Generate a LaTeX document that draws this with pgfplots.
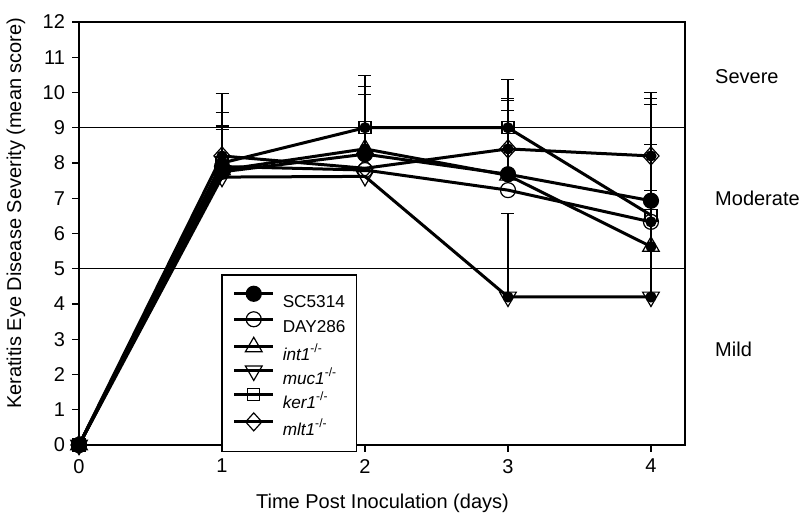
\documentclass[border=0pt]{standalone}
\usepackage{fontspec}
\setmainfont{Liberation Sans}
\usepackage{pgfplots}
\pgfplotsset{compat=1.18}
\begin{document}
\begin{tikzpicture}
\begin{axis}[
  scale only axis, width=303pt, height=211.5pt,
  xmin=0, xmax=4.238, ymin=0, ymax=12,
  xtick={0,1,2,3,4}, ytick={0,1,...,12},
  xtick pos=bottom, ytick pos=left,
  tick align=outside, major tick length=3.5pt,
  tick style={black, line width=0.6pt},
  axis line style={line width=0.75pt},
  font=\fontsize{10}{12}\selectfont,
  tick label style={font=\fontsize{10}{12}\selectfont},
  /pgf/number format/assume math mode=true,
  xlabel={Time Post Inoculation (days)},
  ylabel={Keratitis Eye Disease Severity (mean score)},
  xlabel style={at={(axis description cs:0.5008,-0.137)}, anchor=center},
  ylabel style={at={(axis description cs:-0.104,0.548)}, anchor=center},
  clip=false,
  legend cell align=left,
  legend image code/.code={\draw[mark repeat=2,mark phase=2] plot coordinates {(0pt,3pt) (9.75pt,3pt) (19.5pt,3pt)};},
  legend style={at={(axis cs:0.993,4.85)}, anchor=north west, draw=black, line width=0.75pt,
    font=\fontsize{8.6}{10}\selectfont, inner xsep=5.5pt, inner ysep=5.75pt,
    row sep=0pt, column sep=4pt,
    nodes={inner sep=0pt, text height=9.65pt, text depth=2.35pt}},
  every axis plot/.append style={black, line width=1.5pt},
]
% reference lines
\addplot[forget plot, line width=0.6pt] coordinates {(0,9) (4.238,9)};
\addplot[forget plot, line width=0.6pt] coordinates {(0,5) (4.238,5)};
% error bars
\pgfplotsset{errstyle/.style={forget plot, only marks, mark=none,
  error bars/.cd, y dir=plus, y explicit,
  error bar style={draw=black, solid, line width=0.6pt},
  error mark=-, error mark options={rotate=90, draw=black, solid, line width=0.6pt, mark size=3.25pt}}}
\addplot[errstyle] table[x=x, y=y, y error=e] {
x y e
1 7.75 1.21
2 8.25 1.70
3 7.68 2.09
4 6.93 0.28
};
\addplot[errstyle] table[x=x, y=y, y error=e] {
x y e
1 7.90 1.15
4 6.33 3.50
};
\addplot[errstyle] table[x=x, y=y, y error=e] {
x y e
2 8.40 1.78
3 7.65 1.83
4 5.63 4.36
};
\addplot[errstyle] table[x=x, y=y, y error=e] {
x y e
3 4.20 2.37
4 4.20 5.45
};
\addplot[errstyle] table[x=x, y=y, y error=e] {
x y e
1 8.00 1.43
2 9.00 1.48
3 9.00 1.38
};
\addplot[errstyle] table[x=x, y=y, y error=e] {
x y e
1 8.20 1.77
3 8.40 1.42
4 8.20 0.33
};
% data series
\addplot[mark=*, mark size=3.75pt, mark options={solid, fill=black, line width=0.6pt}]
  coordinates {(0,0) (1,7.75) (2,8.25) (3,7.68) (4,6.93)};
\addlegendentry{SC5314}
\addplot[mark=o, mark size=3.75pt, mark options={solid, line width=0.6pt}]
  coordinates {(0,0) (1,7.90) (2,7.80) (3,7.23) (4,6.33)};
\addlegendentry{DAY286}
\addplot[mark=triangle, mark size=4.8pt, mark options={solid, line width=0.6pt}]
  coordinates {(0,0) (1,7.80) (2,8.40) (3,7.65) (4,5.63)};
\addlegendentry{\textit{int1}\textsuperscript{-/-}}
\addplot[mark=triangle, mark size=4.8pt, mark options={solid, line width=0.6pt, rotate=180}]
  coordinates {(0,0) (1,7.60) (2,7.62) (3,4.20) (4,4.20)};
\addlegendentry{\textit{muc1}\textsuperscript{-/-}}
\addplot[mark=square, mark size=3pt, mark options={solid, line width=0.6pt}]
  coordinates {(0,0) (1,8.00) (2,9.00) (3,9.00) (4,6.52)};
\addlegendentry{\textit{ker1}\textsuperscript{-/-}}
\addplot[mark=diamond, mark size=4.5pt, mark options={solid, line width=0.6pt, xscale=1.2}]
  coordinates {(0,0) (1,8.20) (2,7.85) (3,8.40) (4,8.20)};
\addlegendentry{\textit{mlt1}\textsuperscript{-/-}}
% region labels
\node[anchor=west, font=\fontsize{10}{12}\selectfont] at (axis cs:4.40,10.44) {Severe};
\node[anchor=west, font=\fontsize{10}{12}\selectfont] at (axis cs:4.40,7.0) {Moderate};
\node[anchor=west, font=\fontsize{10}{12}\selectfont] at (axis cs:4.40,2.7) {Mild};
\coordinate (bl) at (rel axis cs:-0.1304,-0.1915);
\coordinate (tr) at (rel axis cs:1.1898,1.052);
\end{axis}
\pgfresetboundingbox
\path (bl) rectangle (tr);
\end{tikzpicture}
\end{document}
